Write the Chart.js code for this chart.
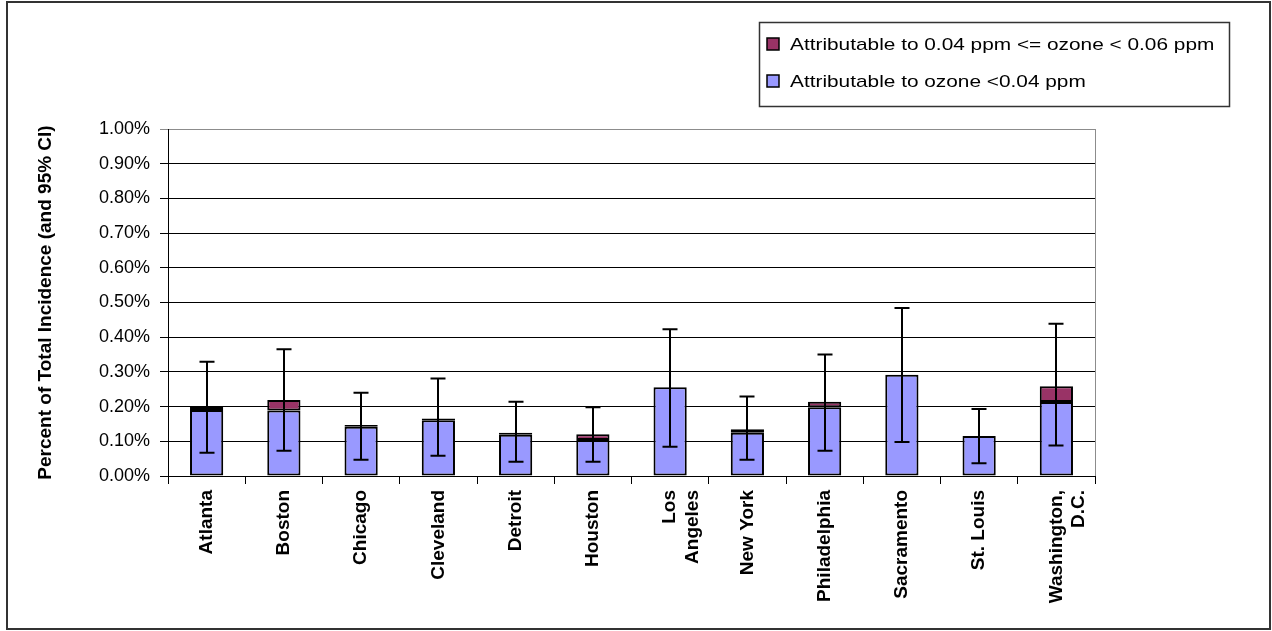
<!DOCTYPE html>
<html>
<head>
<meta charset="utf-8">
<title>Ozone attributable incidence by city</title>
<script src="https://cdn.jsdelivr.net/npm/chart.js@4/dist/chart.umd.min.js"></script>
<style>
  body { margin: 0; background: #fff; }
  canvas { display: block; }
</style>
</head>
<body>
<canvas id="incidence-chart" width="1272" height="631"></canvas>
<script>
// cities along the x axis
const cities = ['Atlanta', 'Boston', 'Chicago', 'Cleveland', 'Detroit', 'Houston',
  ['Los', 'Angeles'], 'New York', 'Philadelphia', 'Sacramento', 'St. Louis', ['Washington,', 'D.C.']];

// percent of total incidence, stacked
const belowLow = [0.190, 0.189, 0.142, 0.161, 0.119, 0.104, 0.256, 0.125, 0.198, 0.292, 0.115, 0.213];
const lowToMid = [0.010, 0.030, 0.005, 0.005, 0.006, 0.016, 0.000, 0.010, 0.016, 0.000, 0.000, 0.046];

// 95% CI on the total
const ciLow  = [0.067, 0.073, 0.047, 0.058, 0.041, 0.041, 0.084, 0.047, 0.073, 0.098, 0.037, 0.088];
const ciHigh = [0.329, 0.365, 0.240, 0.281, 0.214, 0.198, 0.423, 0.229, 0.350, 0.484, 0.193, 0.439];

const yTicks = [0, 0.1, 0.2, 0.3, 0.4, 0.5, 0.6, 0.7, 0.8, 0.9, 1.0];

const BLUE = '#9999FF';
const MAROON = '#993366';

// white page plus the outer frame and the grey right edge of the plot
const framePlugin = {
  id: 'frame',
  beforeDraw(chart) {
    const ctx = chart.ctx;
    ctx.save();
    ctx.fillStyle = '#fff';
    ctx.fillRect(0, 0, chart.width, chart.height);
    ctx.restore();
  },
  afterDraw(chart) {
    const ctx = chart.ctx;
    const a = chart.chartArea;
    ctx.save();
    ctx.strokeStyle = '#8c8c8c';
    ctx.lineWidth = 1;
    ctx.beginPath();
    ctx.moveTo(Math.round(a.right) + 0.5, a.top);
    ctx.lineTo(Math.round(a.right) + 0.5, a.bottom);
    ctx.stroke();
    ctx.strokeStyle = '#333';
    ctx.lineWidth = 2;
    ctx.strokeRect(7, 2, chart.width - 9, chart.height - 4);
    ctx.restore();
  }
};

// whiskers for the confidence interval, centred on each bar
const errorBarPlugin = {
  id: 'errorBars',
  afterDatasetsDraw(chart) {
    const ctx = chart.ctx;
    const x = chart.scales.x, y = chart.scales.y;
    const cap = 7.5;
    ctx.save();
    ctx.strokeStyle = '#000';
    ctx.lineWidth = 2;
    for (let i = 0; i < cities.length; i++) {
      const px = Math.round(x.getPixelForValue(i));
      const lo = y.getPixelForValue(ciLow[i]);
      const hi = y.getPixelForValue(ciHigh[i]);
      ctx.beginPath();
      ctx.moveTo(px, lo);
      ctx.lineTo(px, hi);
      ctx.moveTo(px - cap, hi);
      ctx.lineTo(px + cap, hi);
      ctx.moveTo(px - cap, lo);
      ctx.lineTo(px + cap, lo);
      ctx.stroke();
    }
    ctx.restore();
  }
};

// boxed legend above the plot, upper category first
const legendPlugin = {
  id: 'boxLegend',
  afterDraw(chart) {
    const ctx = chart.ctx;
    const items = [chart.data.datasets[1], chart.data.datasets[0]];
    ctx.save();
    ctx.strokeStyle = '#333';
    ctx.lineWidth = 1.5;
    ctx.strokeRect(759.5, 22.5, 470, 84);
    items.forEach(function (ds, k) {
      const cy = 44 + k * 37;
      ctx.fillStyle = ds.backgroundColor;
      ctx.fillRect(767, cy - 6, 12, 12);
      ctx.strokeStyle = '#000';
      ctx.lineWidth = 1.5;
      ctx.strokeRect(767, cy - 6, 12, 12);
      ctx.save();
      ctx.translate(790, cy);
      ctx.scale(1.225, 1);
      ctx.fillStyle = '#000';
      ctx.font = '17px "Liberation Sans", Arial, sans-serif';
      ctx.textBaseline = 'middle';
      ctx.fillText(ds.label, 0, 1);
      ctx.restore();
    });
    ctx.restore();
  }
};

const ctx = document.getElementById('incidence-chart').getContext('2d');
const incidenceChart = new Chart(ctx, {
  type: 'bar',
  data: {
    labels: cities,
    datasets: [{
      label: 'Attributable to ozone <0.04 ppm',
      data: belowLow,
      backgroundColor: BLUE,
      borderColor: '#000',
      borderWidth: 2,
      borderSkipped: false
    }, {
      label: 'Attributable to 0.04 ppm <= ozone < 0.06 ppm',
      data: lowToMid,
      backgroundColor: MAROON,
      borderColor: '#000',
      borderWidth: 2,
      borderSkipped: false
    }]
  },
  options: {
    responsive: false,
    animation: false,
    devicePixelRatio: 1,
    layout: {
      padding: { top: 129, right: 177, left: 0, bottom: 0 }
    },
    datasets: {
      bar: { categoryPercentage: 1.0, barPercentage: 0.43 }
    },
    plugins: {
      legend: { display: false },
      tooltip: { enabled: false }
    },
    scales: {
      x: {
        stacked: true,
        afterFit(scale) { scale.height = 155; },
        border: { display: true, color: '#000', width: 1 },
        grid: {
          offset: true,
          drawOnChartArea: false,
          drawTicks: true,
          tickLength: 8,
          color: '#000'
        },
        ticks: {
          autoSkip: false,
          minRotation: 90,
          maxRotation: 90,
          padding: 6,
          color: '#000',
          font: { family: '"Liberation Sans", Arial, sans-serif', size: 19, weight: 'bold' }
        }
      },
      y: {
        stacked: true,
        min: 0,
        max: 1.0,
        afterFit(scale) { scale.width = 168; },
        afterBuildTicks(scale) {
          scale.ticks = yTicks.map(function (v) { return { value: v }; });
        },
        border: { display: true, color: '#000', width: 1 },
        grid: {
          tickLength: 8,
          color(c) { return c.tick && c.tick.value >= 1 ? '#8c8c8c' : '#000'; }
        },
        ticks: {
          padding: 10,
          color: '#000',
          font: { family: '"Liberation Sans", Arial, sans-serif', size: 18 },
          callback(v) { return Number(v).toFixed(2) + '%'; }
        },
        title: {
          display: true,
          text: 'Percent of Total Incidence (and 95% CI)',
          color: '#000',
          padding: { top: 34, bottom: 0 },
          font: { family: '"Liberation Sans", Arial, sans-serif', size: 19, weight: 'bold' }
        }
      }
    }
  },
  plugins: [framePlugin, errorBarPlugin, legendPlugin]
});
</script>
</body>
</html>
